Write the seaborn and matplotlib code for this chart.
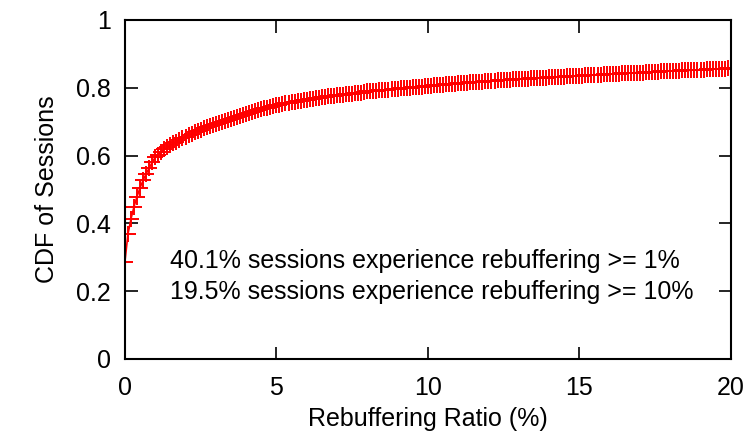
import numpy as np
import pandas as pd
import matplotlib
matplotlib.use('Agg')
import matplotlib.pyplot as plt
import seaborn as sns

ratio = np.round(np.arange(0, 20.05, 0.1), 1)
cdf = [
    0.286, 0.368, 0.413, 0.449, 0.479, 0.505, 0.527, 0.546, 0.563, 0.580, 0.595,
    0.603, 0.611, 0.618, 0.624, 0.630, 0.636, 0.641, 0.646, 0.651, 0.656,
    0.660, 0.664, 0.668, 0.672, 0.676, 0.680, 0.683, 0.687, 0.690, 0.693,
    0.696, 0.699, 0.702, 0.705, 0.708, 0.711, 0.714, 0.717, 0.720, 0.723,
    0.726, 0.729, 0.731, 0.734, 0.736, 0.739, 0.741, 0.743, 0.746, 0.748,
    0.750, 0.752, 0.754, 0.755, 0.757, 0.759, 0.761, 0.762, 0.764, 0.765,
    0.767, 0.768, 0.770, 0.771, 0.772, 0.773, 0.775, 0.776, 0.777, 0.778,
    0.779, 0.780, 0.781, 0.782, 0.783, 0.784, 0.785, 0.786, 0.788, 0.789,
    0.790, 0.790, 0.791, 0.792, 0.793, 0.794, 0.794, 0.795, 0.796, 0.797,
    0.798, 0.799, 0.799, 0.800, 0.801, 0.802, 0.803, 0.803, 0.804, 0.805,
    0.806, 0.807, 0.807, 0.808, 0.809, 0.810, 0.810, 0.811, 0.812, 0.813,
    0.814, 0.814, 0.815, 0.816, 0.816, 0.817, 0.818, 0.818, 0.819, 0.820,
    0.821, 0.821, 0.822, 0.822, 0.823, 0.823, 0.824, 0.825, 0.825, 0.826,
    0.826, 0.827, 0.827, 0.828, 0.828, 0.829, 0.829, 0.830, 0.830, 0.831,
    0.831, 0.832, 0.832, 0.833, 0.833, 0.834, 0.834, 0.835, 0.835, 0.836,
    0.836, 0.837, 0.837, 0.838, 0.838, 0.839, 0.839, 0.840, 0.840, 0.841,
    0.841, 0.842, 0.842, 0.843, 0.843, 0.843, 0.844, 0.844, 0.845, 0.845,
    0.845, 0.846, 0.846, 0.847, 0.847, 0.847, 0.848, 0.848, 0.849, 0.849,
    0.849, 0.850, 0.850, 0.851, 0.851, 0.851, 0.852, 0.852, 0.853, 0.853,
    0.853, 0.854, 0.854, 0.855, 0.855, 0.855, 0.856, 0.856, 0.857, 0.857,
]
notes = ['40.1% sessions experience rebuffering >= 1%',
         '19.5% sessions experience rebuffering >= 10%']

df = pd.DataFrame({'ratio': ratio, 'cdf': cdf})

sns.set_style('ticks')
plt.rcParams['font.family'] = ['Liberation Sans', 'DejaVu Sans']
plt.rcParams['font.size'] = 18
plt.rcParams['text.color'] = 'black'
plt.rcParams['axes.labelcolor'] = 'black'

fig = plt.figure(figsize=(7.48, 4.34), dpi=100)
ax = fig.add_axes([0.167, 0.173, 0.81, 0.781])

sns.lineplot(data=df, x='ratio', y='cdf', ax=ax, color='red', linewidth=1.2,
             marker='+', markersize=11, markeredgewidth=1.4, markeredgecolor='red')

ax.set_xlim(0, 20)
ax.set_ylim(0, 1)
ax.set_xticks([0, 5, 10, 15, 20])
ax.set_yticks([0, 0.2, 0.4, 0.6, 0.8, 1])
ax.set_yticklabels(['0', '0.2', '0.4', '0.6', '0.8', '1'])
ax.tick_params(direction='in', length=9, width=1.2, top=True, right=True,
               labelsize=18, colors='black')
ax.tick_params(axis='y', pad=10)
ax.tick_params(axis='x', pad=12)
for s in ax.spines.values():
    s.set_linewidth(1.5)
    s.set_color('black')
ax.set_xlabel('Rebuffering Ratio (%)', fontsize=18, labelpad=5)
ax.set_ylabel('CDF of Sessions', fontsize=18, labelpad=12)

ax.text(1.5, 0.29, notes[0], fontsize=18, va='center', ha='left')
ax.text(1.5, 0.197, notes[1], fontsize=18, va='center', ha='left')

fig.savefig('out.png', dpi=100)
